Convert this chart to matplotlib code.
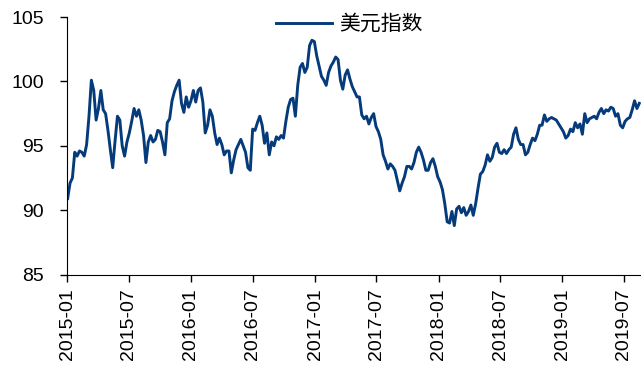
import matplotlib
matplotlib.use("Agg")
import matplotlib.pyplot as plt
import matplotlib.dates as mdates
import pandas as pd

# weekly readings of the US dollar index (Fridays from 2015-01-02)
start_date = "2015-01-02"
dxy = [
    90.9, 92.1, 92.5, 94.5, 94.2, 94.6, 94.5, 94.2, 95.1, 97.3,
    100.1, 99.3, 97.0, 97.9, 99.3, 97.8, 97.5, 96.2, 94.7, 93.3,
    95.4, 97.3, 97.0, 95.0, 94.2, 95.3, 96.0, 96.9, 97.9, 97.3,
    97.8, 97.0, 95.8, 93.7, 95.3, 95.8, 95.3, 95.5, 96.2, 96.1,
    95.3, 94.3, 96.8, 97.1, 98.5, 99.2, 99.7, 100.1, 98.3, 97.6,
    98.8, 98.0, 98.5, 99.3, 98.4, 99.3, 99.5, 98.4, 96.0, 96.6,
    97.8, 97.3, 96.0, 95.1, 95.6, 95.1, 94.3, 94.6, 94.6, 92.9,
    93.9, 94.7, 95.1, 95.5, 95.0, 94.5, 93.3, 93.1, 96.3, 96.2,
    96.8, 97.3, 96.6, 95.2, 96.0, 94.3, 95.3, 95.0, 95.7, 95.5,
    95.8, 95.6, 96.9, 98.0, 98.6, 98.7, 97.3, 99.7, 101.1, 101.4,
    100.7, 101.1, 102.8, 103.2, 103.1, 102.0, 101.2, 100.4, 100.1, 99.7,
    100.7, 101.2, 101.5, 101.9, 101.7, 100.1, 99.4, 100.5, 100.9, 100.2,
    99.6, 99.2, 98.8, 98.8, 97.4, 97.1, 97.3, 96.7, 97.2, 97.5,
    96.5, 96.1, 95.5, 94.3, 93.8, 93.2, 93.6, 93.4, 93.1, 92.3,
    91.5, 92.1, 92.6, 93.4, 93.4, 93.2, 93.7, 94.5, 94.9, 94.5,
    93.9, 93.1, 93.1, 93.7, 94.0, 93.4, 92.6, 92.2, 91.6, 90.5,
    89.1, 89.0, 89.9, 88.8, 90.1, 90.3, 89.8, 90.2, 89.6, 89.9,
    90.4, 89.6, 90.5, 91.7, 92.8, 93.0, 93.5, 94.3, 93.8, 94.1,
    94.9, 95.2, 94.5, 94.4, 94.7, 94.4, 94.7, 94.9, 95.9, 96.4,
    95.5, 95.1, 95.1, 94.3, 94.5, 95.1, 95.6, 95.4, 95.9, 96.6,
    96.6, 97.4, 96.9, 97.1, 97.2, 97.1, 97.0, 96.7, 96.4, 96.1,
    95.6, 95.8, 96.3, 96.1, 96.8, 96.4, 96.7, 95.9, 97.5, 96.8,
    97.1, 97.2, 97.3, 97.1, 97.6, 97.9, 97.5, 97.8, 97.7, 98.0,
    97.9, 97.3, 97.5, 96.6, 96.4, 96.9, 97.1, 97.2, 97.8, 98.5,
    97.9, 98.3,
]
dates = pd.date_range(start_date, periods=len(dxy), freq="W-FRI")

tick_dates = pd.date_range("2015-01-01", "2019-07-01", freq="6MS")
y_ticks = [85, 90, 95, 100, 105]

plt.rcParams["font.family"] = ["Liberation Sans", "Noto Sans CJK SC", "DejaVu Sans"]

fig = plt.figure(figsize=(6.41, 3.72), dpi=100)
ax = fig.add_axes([0.105, 0.262, 0.895, 0.692])

line, = ax.plot(dates, dxy, color="#053B7A", lw=2.1, label="美元指数")

ax.set_xlim(pd.Timestamp("2015-01-01"), pd.Timestamp("2019-08-21"))
ax.set_ylim(85, 105)
ax.set_yticks(y_ticks)
ax.set_xticks(tick_dates)
ax.xaxis.set_major_formatter(mdates.DateFormatter("%Y-%m"))
plt.setp(ax.get_xticklabels(), rotation=90)

ax.spines["top"].set_visible(False)
ax.spines["right"].set_visible(False)
ax.tick_params(axis="y", direction="out", length=5, width=1, labelsize=14, pad=12)
ax.tick_params(axis="x", direction="out", length=5, width=1, labelsize=14, pad=5)

fig.legend(handles=[line], loc="center", bbox_to_anchor=(349.5 / 641, 1 - 24 / 372),
           frameon=False, handlelength=2.7, handletextpad=0.35, borderpad=0,
           borderaxespad=0, prop={"family": ["Noto Sans CJK SC"], "size": 15})

fig.savefig("out.png", dpi=100)
